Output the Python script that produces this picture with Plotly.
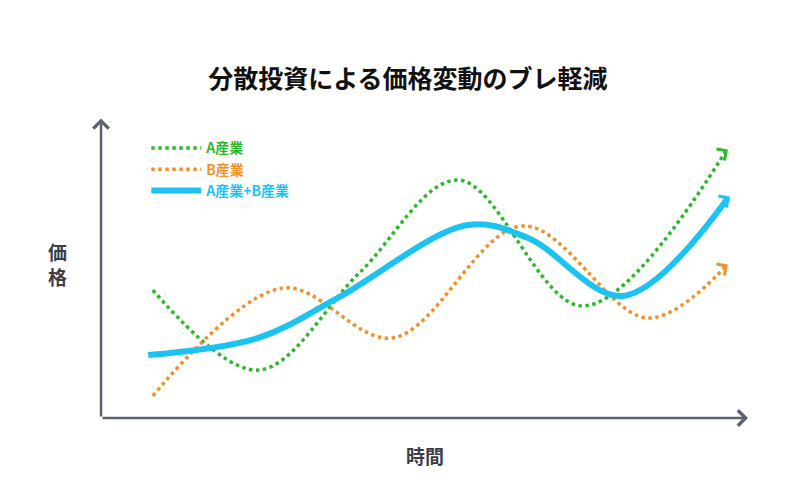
import plotly.graph_objects as go

# data (time 0-10, price 0-10)
a_x = [0.8, 2.43, 4.0, 5.52, 7.45, 9.66]
a_y = [4.57, 1.71, 5.2, 8.5, 4.0, 9.54]
b_x = [0.8, 2.81, 4.51, 6.52, 8.45, 9.66]
b_y = [0.79, 4.64, 2.86, 6.86, 3.57, 5.43]
ab_x = [0.73, 2.43, 3.66, 5.67, 6.6, 8.07, 9.69]
ab_y = [2.25, 2.86, 4.29, 6.89, 6.43, 4.36, 7.86]

names = ["A産業", "B産業", "A産業+B産業"]
colors = ["#2db82d", "#f0922b", "#1cc3f0"]
font = "Noto Sans CJK JP"

fig = go.Figure()
series = [(a_x, a_y, "dot", 3.5), (b_x, b_y, "dot", 3.5), (ab_x, ab_y, "solid", 6)]
for (xs, ys, dash, w), name, c in zip(series, names, colors):
    fig.add_trace(go.Scatter(
        x=xs, y=ys, mode="lines", line=dict(shape="spline", smoothing=1.0, dash=dash, width=w, color=c),
        name=f"<span style='color:{c}'><b>{name}</b></span>"))
    # arrow head at the end of each line
    fig.add_annotation(x=xs[-1] + 0.03, y=ys[-1] + 0.05, ax=xs[-1] - 0.05, ay=ys[-1] - 0.08,
                       xref="x", yref="y", axref="x", ayref="y", text="", showarrow=True,
                       arrowhead=4, arrowsize=0.9, arrowcolor=c, arrowwidth=3)

axis_c = "#5c6270"
# axis arrows
fig.add_annotation(x=0, y=1.07, ax=0, ay=0, xref="x domain", yref="y domain",
                   axref="x domain", ayref="y domain",
                   text="", showarrow=True, arrowhead=4, arrowsize=1.2, arrowwidth=2.5, arrowcolor=axis_c)
fig.add_annotation(x=1.0, y=0, ax=0, ay=0, xref="x domain", yref="y domain",
                   axref="x domain", ayref="y domain",
                   text="", showarrow=True, arrowhead=4, arrowsize=1.2, arrowwidth=2.5, arrowcolor=axis_c)
fig.add_annotation(x=-0.05, y=0.55, xref="paper", yref="paper", text="<b>価<br>格</b>", showarrow=False,
                   font=dict(size=19, color="#3a3f4a", family=font), xanchor="right")
fig.add_annotation(x=0.5, y=-0.08, xref="paper", yref="paper", text="<b>時間</b>", showarrow=False,
                   font=dict(size=19, color="#3a3f4a", family=font), yanchor="top")

fig.update_layout(
    width=800, height=493, paper_bgcolor="white", plot_bgcolor="white",
    margin=dict(l=93, r=60, t=130, b=83),
    title=dict(text="<b>分散投資による価格変動のブレ軽減</b>", x=0.5, y=0.855, yanchor="middle",
               font=dict(size=25, color="#111", family=font)),
    xaxis=dict(range=[0, 10], visible=False),
    yaxis=dict(range=[0, 10], visible=False),
    legend=dict(x=0.07, y=1.02, xanchor="left", yanchor="top", bgcolor="rgba(0,0,0,0)",
                font=dict(size=14, family=font), tracegroupgap=4, itemwidth=50),
    showlegend=True,
)

fig.write_html("out.html")
